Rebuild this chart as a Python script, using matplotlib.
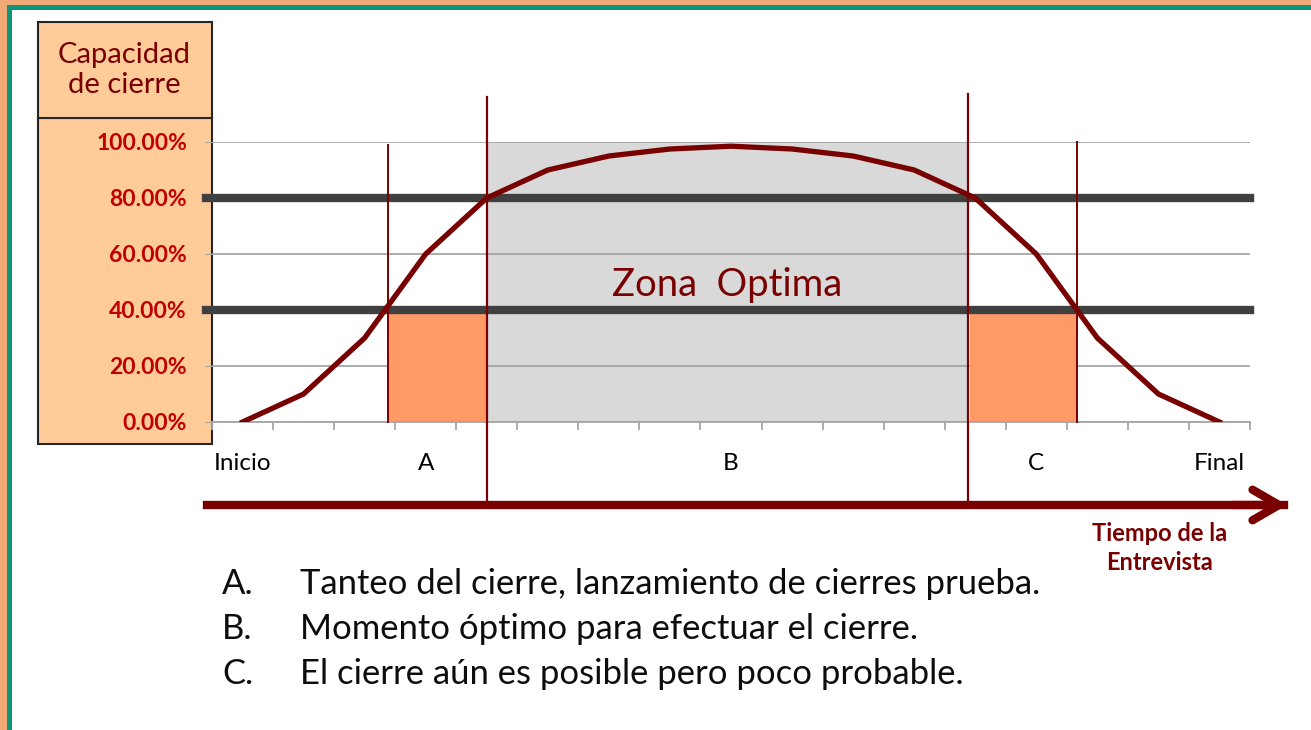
import matplotlib.pyplot as plt
from matplotlib.patches import Rectangle
from matplotlib.ticker import FuncFormatter

## datos de la curva (17 momentos de la entrevista)
capacidad = [0, 0.10, 0.30, 0.60, 0.80, 0.90, 0.95, 0.975, 0.985,
             0.975, 0.95, 0.90, 0.80, 0.60, 0.30, 0.10, 0]
etiquetas = ["Inicio", "", "", "A", "", "", "", "", "B",
             "", "", "", "", "C", "", "", "Final"]
yticks = [0, 0.2, 0.4, 0.6, 0.8, 1.0]
umbrales = [0.4, 0.8]

## zonas (en unidades del eje x)
zona_a = [3.38, 5.0]
zona_b = [5.0, 12.88]
zona_c = [12.91, 14.66]
zona_alto = 0.4

lista = ["Tanteo del cierre, lanzamiento de cierres prueba.",
         "Momento óptimo para efectuar el cierre.",
         "El cierre aún es posible pero poco probable."]
letras = ["A.", "B.", "C."]

rojo = "#780000"
W, H = 1311, 730
plt.rcParams['font.family'] = ['Lato', 'DejaVu Sans']

fig = plt.figure(figsize=(W / 100, H / 100), dpi=100)

##marco
fig.patches.append(Rectangle((0, 0), 1, 1, transform=fig.transFigure,
                             facecolor="#EFAA78", edgecolor="none", zorder=-3))
fig.patches.append(Rectangle((7 / W, -0.1), 1.1, 1 - 5 / H + 0.1, transform=fig.transFigure,
                             facecolor="#0E9577", edgecolor="none", zorder=-2))
fig.patches.append(Rectangle((12 / W, -0.1), 1.1, 1 - 10 / H + 0.1, transform=fig.transFigure,
                             facecolor="white", edgecolor="none", zorder=-1))

##caja del eje y
fig.patches.append(Rectangle((38 / W, 1 - 444 / H), 174 / W, 326 / H, transform=fig.transFigure,
                             facecolor="#FFCC99", edgecolor="#262626", lw=1.5, zorder=-0.5))
fig.patches.append(Rectangle((38 / W, 1 - 118 / H), 174 / W, 96 / H, transform=fig.transFigure,
                             facecolor="#FFCC99", edgecolor="#262626", lw=1.5, zorder=-0.5))
fig.text(124 / W, 1 - 70 / H, "Capacidad\nde cierre", ha="center", va="center",
         color=rojo, fontsize=21, linespacing=1.2)

ax = fig.add_axes([212 / W, 1 - 422 / H, 1038 / W, 280 / H])
ax.patch.set_alpha(0)
x = list(range(1, len(capacidad) + 1))

ax.axvspan(zona_b[0], zona_b[1], 0, 1, color="#D9D9D9", lw=0, zorder=0)
ax.axvspan(zona_a[0], zona_a[1], 0, zona_alto, color="#FF9966", lw=0, zorder=1)
ax.axvspan(zona_c[0], zona_c[1], 0, zona_alto, color="#FF9966", lw=0, zorder=1)

for t in yticks:
    ax.axhline(t, color="#A6A6A6", lw=1.3, zorder=0.5)

for u in umbrales:
    ax.plot([0.4, 17.5], [u, u], color="#404040", lw=6, clip_on=False, zorder=3)

##lineas verticales
ax.plot([zona_a[0]] * 2, [0, 0.99], color=rojo, lw=1.4, clip_on=False, zorder=4)
ax.plot([zona_c[1]] * 2, [0, 1.0], color=rojo, lw=1.4, clip_on=False, zorder=4)
ax.plot([zona_b[0]] * 2, [-0.28, 1.16], color=rojo, lw=1.6, clip_on=False, zorder=4)
ax.plot([zona_b[1]] * 2, [-0.28, 1.17], color=rojo, lw=1.6, clip_on=False, zorder=4)

ax.plot(x, capacidad, color=rojo, lw=3.8, solid_joinstyle="miter", zorder=5)

ax.text((zona_b[0] + zona_b[1]) / 2, 0.49, "Zona  Optima", ha="center", va="center",
        color=rojo, fontsize=27.5, zorder=6)

ax.set_xlim(0.5, 17.5)
ax.set_ylim(0, 1)
ax.set_yticks(yticks)
ax.yaxis.set_major_formatter(FuncFormatter(lambda v, p: "%.2f%%" % (v * 100)))
ax.tick_params(axis="y", length=5, color="#A6A6A6", pad=13, labelsize=16.5,
               labelcolor="#C00000")
for lab in ax.get_yticklabels():
    lab.set_fontweight("bold")
ax.set_xticks(x)
ax.set_xticklabels(etiquetas)
ax.set_xticks([i + 0.5 for i in range(0, 18)], minor=True)
ax.tick_params(axis="x", which="major", length=0, pad=22, labelsize=17.5)
ax.tick_params(axis="x", which="minor", length=6, color="#A6A6A6", width=1.3)
for s in ["top", "right", "left"]:
    ax.spines[s].set_visible(False)
ax.spines["bottom"].set_color("#A6A6A6")
ax.spines["bottom"].set_linewidth(1.3)

##flecha del tiempo
fig.patches.append(plt.Line2D([207 / W, 1284 / W], [1 - 505 / H] * 2, transform=fig.transFigure,
                              color=rojo, lw=6))
ax.annotate("", xy=(1290 / W, 1 - 505 / H), xytext=(1230 / W, 1 - 505 / H),
            xycoords="figure fraction", textcoords="figure fraction",
            arrowprops=dict(arrowstyle="->,head_length=1.9,head_width=1.1", color=rojo,
                            lw=6, capstyle="round", joinstyle="round"))
fig.text(1160 / W, 1 - 548 / H, "Tiempo de la\nEntrevista", ha="center", va="center",
         color=rojo, fontsize=17, fontweight="bold", linespacing=1.3)

##lista
for i in range(len(lista)):
    yy = 1 - (584 + 45 * i) / H
    fig.text(222 / W, yy, letras[i], ha="left", va="center", fontsize=24.9, color="#0D0D0D")
    fig.text(300 / W, yy, lista[i], ha="left", va="center", fontsize=24.9, color="#0D0D0D")

fig.savefig("out.png", dpi=100)
